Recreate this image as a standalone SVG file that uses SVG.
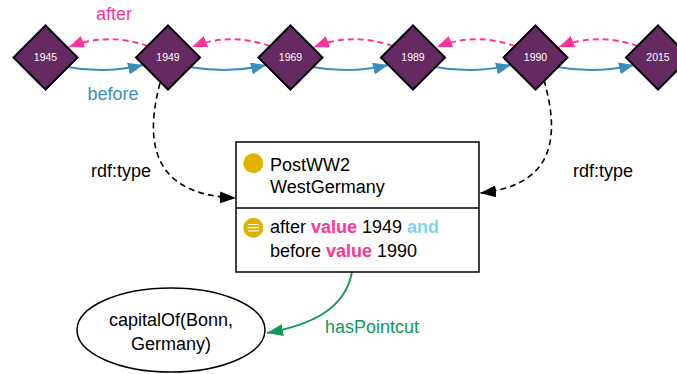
<svg xmlns="http://www.w3.org/2000/svg" width="677" height="374" viewBox="0 0 677 374">
  <style>
    text { font-family: "Liberation Sans", Arial, Helvetica, sans-serif; }
    .year { fill: #662a62; stroke: #000; stroke-width: 2; }
    .yl { fill: #fff; font-size: 10.5px; text-anchor: middle; }
    .before { fill: none; stroke: #3a8fba; stroke-width: 2; }
    .after { fill: none; stroke: #ff3497; stroke-width: 2; stroke-dasharray: 6 4; }
    .type { fill: none; stroke: #000; stroke-width: 1.6; stroke-dasharray: 6 4; }
    .pc { fill: none; stroke: #0f9b55; stroke-width: 1.8; }
    .lbl { font-size: 18px; }
    .box { fill: #fff; stroke: #000; stroke-width: 1.5; }
    .kw { fill: #ff3497; font-weight: bold; }
    .and { fill: #7dd3f5; font-weight: bold; }
  </style>
  <defs>
    <marker id="ah-blue" markerUnits="userSpaceOnUse" markerWidth="16" markerHeight="13" refX="15" refY="6" orient="auto">
      <path d="M0,0 L15,6 L0,12 z" fill="#3a8fba"/>
    </marker>
    <marker id="ah-pink" markerUnits="userSpaceOnUse" markerWidth="16" markerHeight="13" refX="15" refY="6" orient="auto">
      <path d="M0,0 L15,6 L0,12 z" fill="#ff3497"/>
    </marker>
    <marker id="ah-black" markerUnits="userSpaceOnUse" markerWidth="17" markerHeight="13" refX="16" refY="6" orient="auto">
      <path d="M0,0 L16,6 L0,12 z" fill="#000"/>
    </marker>
    <marker id="ah-green" markerUnits="userSpaceOnUse" markerWidth="17" markerHeight="13" refX="16" refY="6" orient="auto">
      <path d="M0,0 L16,6 L0,12 z" fill="#0f9b55"/>
    </marker>
  </defs>

  <g id="connectors">
    <!-- before: each year to the next -->
    <path class="before" d="M67,67 Q106,74 143,65" marker-end="url(#ah-blue)"/>
    <path class="before" d="M190,67 Q229,74 266,65" marker-end="url(#ah-blue)"/>
    <path class="before" d="M312,67 Q351,74 388,65" marker-end="url(#ah-blue)"/>
    <path class="before" d="M435,67 Q474,74 511,65" marker-end="url(#ah-blue)"/>
    <path class="before" d="M557,67 Q596,74 634,65" marker-end="url(#ah-blue)"/>
    <!-- after: each year back to the previous -->
    <path class="after" d="M148,46 Q108,32 69,47" marker-end="url(#ah-pink)"/>
    <path class="after" d="M270,46 Q230,32 192,47" marker-end="url(#ah-pink)"/>
    <path class="after" d="M393,46 Q353,32 314,47" marker-end="url(#ah-pink)"/>
    <path class="after" d="M515,46 Q475,32 437,47" marker-end="url(#ah-pink)"/>
    <path class="after" d="M638,46 Q598,32 559,47" marker-end="url(#ah-pink)"/>
    <!-- rdf:type links to the class box -->
    <path class="type" d="M160,83 C145,140 150,195 236,198" marker-end="url(#ah-black)"/>
    <path class="type" d="M544,80 C558,130 560,185 480,193" marker-end="url(#ah-black)"/>
    <!-- hasPointcut -->
    <path class="pc" d="M352,272 C345,310 310,325 267,333" marker-end="url(#ah-green)"/>
    <text class="lbl" x="114" y="20" text-anchor="middle" fill="#ff3497">after</text>
    <text class="lbl" x="113" y="100" text-anchor="middle" fill="#3a8fba">before</text>
    <text class="lbl" x="121" y="177" text-anchor="middle" fill="#000">rdf:type</text>
    <text class="lbl" x="603" y="177" text-anchor="middle" fill="#000">rdf:type</text>
    <text class="lbl" x="372" y="333" text-anchor="middle" fill="#0f9b55">hasPointcut</text>
  </g>

  <g id="y1945">
    <path class="year" d="M45.5,25.5 L77.5,57.5 L45.5,89.5 L13.5,57.5 z"/>
    <text class="yl" x="45.5" y="61">1945</text>
  </g>
  <g id="y1949">
    <path class="year" d="M168,25.5 L200,57.5 L168,89.5 L136,57.5 z"/>
    <text class="yl" x="168" y="61">1949</text>
  </g>
  <g id="y1969">
    <path class="year" d="M290.5,25.5 L322.5,57.5 L290.5,89.5 L258.5,57.5 z"/>
    <text class="yl" x="290.5" y="61">1969</text>
  </g>
  <g id="y1989">
    <path class="year" d="M413,25.5 L445,57.5 L413,89.5 L381,57.5 z"/>
    <text class="yl" x="413" y="61">1989</text>
  </g>
  <g id="y1990">
    <path class="year" d="M535.5,25.5 L567.5,57.5 L535.5,89.5 L503.5,57.5 z"/>
    <text class="yl" x="535.5" y="61">1990</text>
  </g>
  <g id="y2015">
    <path class="year" d="M658,25.5 L690,57.5 L658,89.5 L626,57.5 z"/>
    <text class="yl" x="658" y="61">2015</text>
  </g>

  <g id="PostWW2WestGermany">
    <rect class="box" x="236" y="142" width="243" height="130"/>
    <line x1="236" y1="208" x2="479" y2="208" stroke="#000" stroke-width="1.5"/>
    <circle cx="253.3" cy="163.3" r="10" fill="#dfb200"/>
    <text class="lbl" x="270" y="171">PostWW2</text>
    <text class="lbl" x="270" y="193">WestGermany</text>
    <circle cx="253.3" cy="227.7" r="10" fill="#dfb200"/>
    <path d="M248,224.5 H258.6 M247.5,227.7 H259.1 M248,230.9 H258.6" stroke="#fff" stroke-width="1.2"/>
    <text class="lbl" x="270" y="233">after <tspan class="kw">value</tspan> 1949 <tspan class="and">and</tspan></text>
    <text class="lbl" x="270" y="257">before <tspan class="kw">value</tspan> 1990</text>
  </g>

  <g id="capitalOfBonnGermany">
    <ellipse cx="171" cy="330" rx="94" ry="42" fill="#fff" stroke="#000" stroke-width="1.5"/>
    <text class="lbl" x="171" y="326" text-anchor="middle">capitalOf(Bonn,</text>
    <text class="lbl" x="171" y="350" text-anchor="middle">Germany)</text>
  </g>
</svg>
